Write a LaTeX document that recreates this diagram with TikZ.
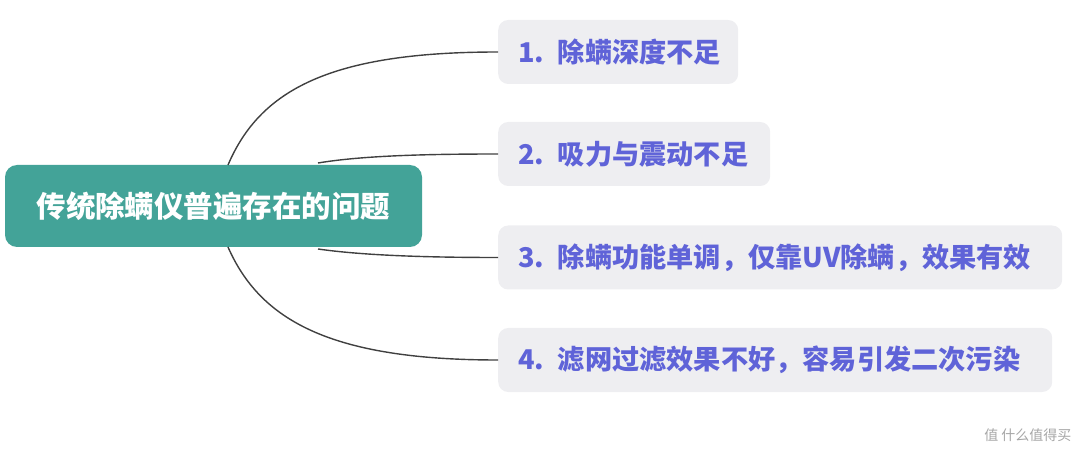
\documentclass[tikz,border=0pt]{standalone}
\usepackage{fontspec}
\setmainfont{Noto Sans CJK SC}
\definecolor{teal1}{HTML}{43A398}
\definecolor{boxg}{HTML}{EEEEF1}
\definecolor{txtb}{HTML}{5F63D8}
\begin{document}
\begin{tikzpicture}[x=1pt,y=-1pt,
 root/.style={fill=teal1,rounded corners=12pt,text=white,font=\fontsize{29.5}{32}\selectfont\bfseries,minimum width=417pt,minimum height=82pt,inner sep=0},
 leaf/.style={fill=boxg,rounded corners=10pt,text=txtb,font=\fontsize{27.2}{30}\selectfont\bfseries,minimum height=64pt,anchor=west,inner sep=0,text width=#1,align=left},
 conn/.style={draw=black!75,line width=1.4pt}]
\useasboundingbox (0,0) rectangle (1080,457);
\node[root] (r) at (213.5,206) {传统除螨仪普遍存在的问题};
\node[leaf=240pt] (a) at (498,52) {\hspace*{20pt}1. 除螨深度不足};
\node[leaf=272pt] (b) at (498,154) {\hspace*{20pt}2. 吸力与震动不足};
\node[leaf=564pt] (c) at (498,257.5) {\hspace*{20pt}3. 除螨功能单调，仅靠UV除螨，效果有效};
\node[leaf=554pt] (d) at (498,360) {\hspace*{20pt}4. 滤网过滤效果不好，容易引发二次污染};
\coordinate (s1) at (228,165);
\coordinate (s2) at (318,163);
\coordinate (s3) at (318,249);
\coordinate (s4) at (228,247);
\draw[conn] (s1) .. controls (260,90) and (330,52) .. (a.west);
\draw[conn] (s2) .. controls (360,156) and (420,154) .. (b.west);
\draw[conn] (s3) .. controls (360,255) and (420,257.5) .. (c.west);
\draw[conn] (s4) .. controls (260,320) and (330,360) .. (d.west);
\node[text=black!35,font=\fontsize{14}{16}\selectfont,anchor=east] (w) at (1075,435) {值\ 什么值得买};
\end{tikzpicture}
\end{document}
